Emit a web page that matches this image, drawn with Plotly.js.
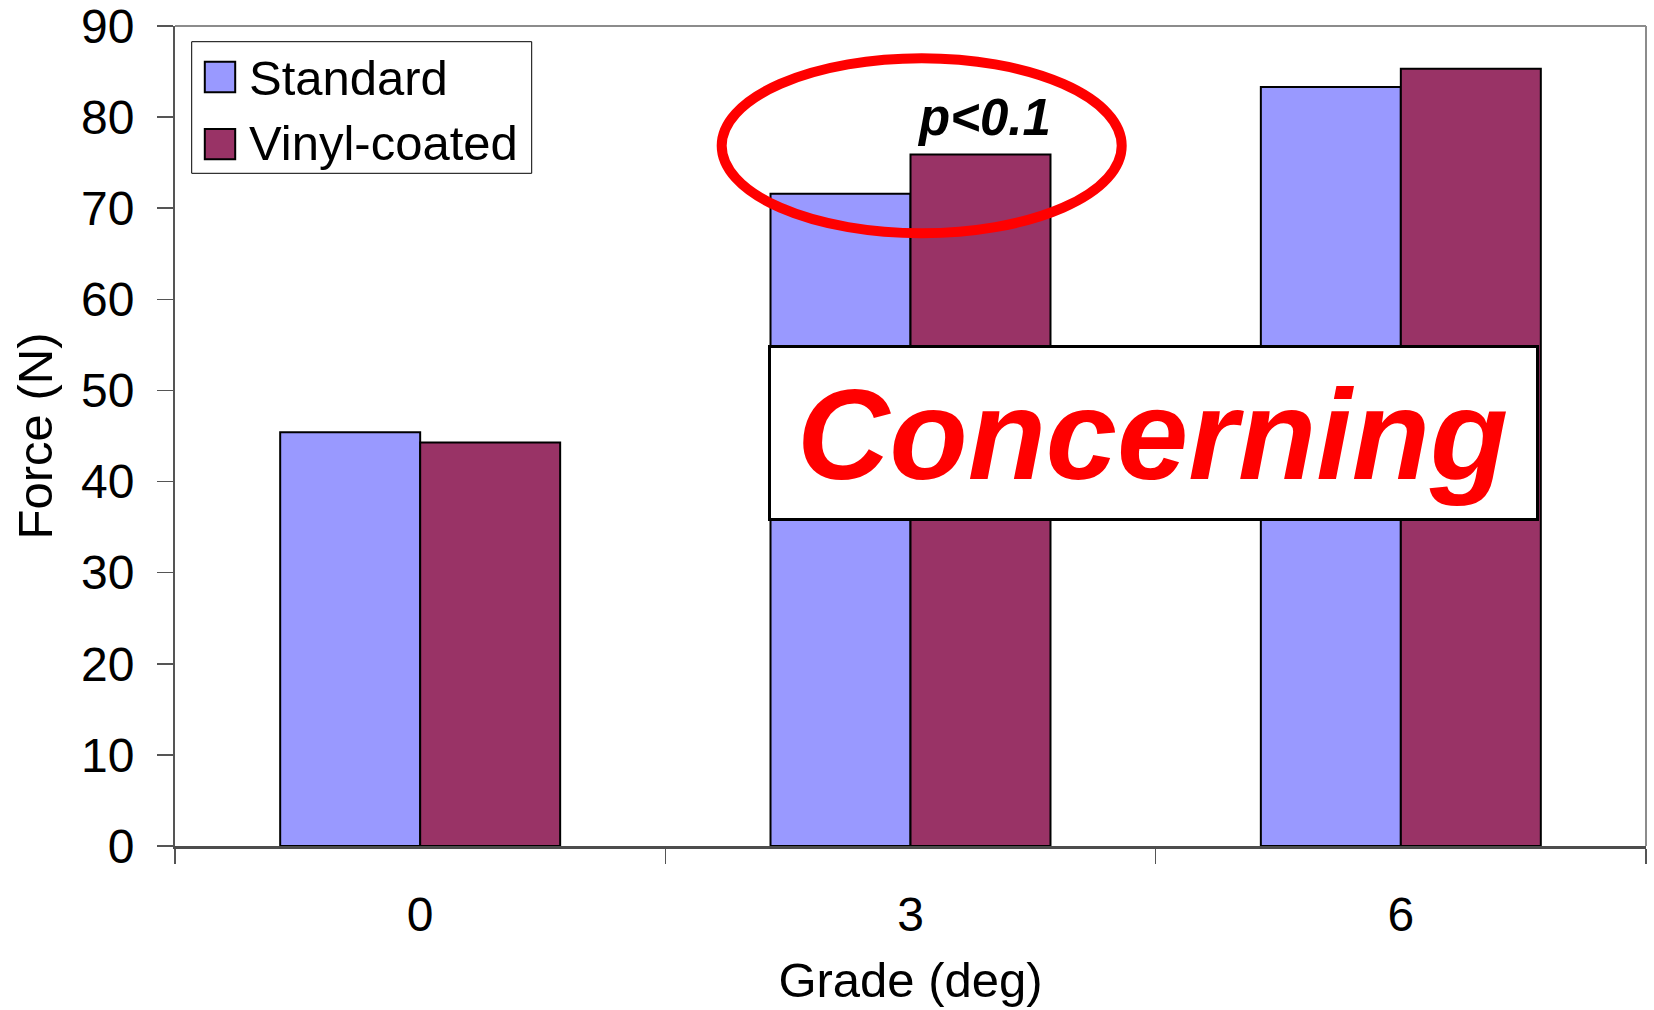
<!DOCTYPE html>
<html>
<head>
<meta charset="utf-8">
<script src="https://cdn.plot.ly/plotly-3.0.1.min.js"></script>
<style>
  html, body { margin: 0; padding: 0; background: #ffffff; }
  #chart { width: 1654px; height: 1010px; }
</style>
</head>
<body>
<div id="chart"></div>
<script>
// Pulling force by road grade for two tyre/track surface types
const grades = ['0', '3', '6'];
const standardForce = [45.4, 71.6, 83.3];
const vinylForce = [44.3, 75.9, 85.3];
const seriesNames = ['Standard', 'Vinyl-coated'];
const seriesColors = ['#9999FF', '#993366'];
const yTicks = [0, 10, 20, 30, 40, 50, 60, 70, 80, 90];
const xTitle = 'Grade (deg)';
const yTitle = 'Force (N)';
const noteText = 'p<0.1';
const bannerText = 'Concerning';

const FONT = 'Liberation Sans, Arial, Helvetica, sans-serif';
const W = 1654, H = 1010;
const M = { l: 175, r: 8, t: 26, b: 164 };
const plotW = W - M.l - M.r, plotH = H - M.t - M.b;
// pixel position inside the figure -> paper coordinates
const px = x => (x - M.l) / plotW;
const py = y => (H - M.b - y) / plotH;

const traces = [standardForce, vinylForce].map((vals, i) => ({
  type: 'bar',
  name: seriesNames[i],
  x: grades,
  y: vals,
  marker: { color: seriesColors[i], line: { color: '#000000', width: 2 } },
  hoverinfo: 'x+y+name'
}));

const shapes = [
  // plot frame (top and right edges)
  { type: 'line', xref: 'paper', yref: 'paper', x0: 0, x1: 1, y0: 1, y1: 1,
    line: { color: '#8c8c8c', width: 2 } },
  { type: 'line', xref: 'paper', yref: 'paper', x0: 1, x1: 1, y0: 0, y1: 1,
    line: { color: '#8c8c8c', width: 2 } },
  // highlight ring round the 3-degree pair
  { type: 'circle', xref: 'paper', yref: 'paper', layer: 'above',
    x0: px(721.7), x1: px(1121.7), y0: py(233.3), y1: py(58.3),
    line: { color: '#FF0000', width: 10 } },
  // banner box
  { type: 'rect', xref: 'paper', yref: 'paper', layer: 'above',
    x0: px(769.5), x1: px(1537.5), y0: py(519.5), y1: py(346.5),
    fillcolor: '#ffffff', line: { color: '#000000', width: 3 } },
  // legend frame
  { type: 'rect', xref: 'paper', yref: 'paper', layer: 'above',
    x0: px(191.7), x1: px(531.7), y0: py(173.3), y1: py(41.7),
    fillcolor: '#ffffff', line: { color: '#000000', width: 1 } }
];

// legend swatches and labels
const legendRows = [{ top: 61.7, bottom: 92.3, mid: 78.3 }, { top: 129, bottom: 159.3, mid: 142.7 }];
const annotations = [];
seriesNames.forEach((name, i) => {
  const r = legendRows[i];
  shapes.push({ type: 'rect', xref: 'paper', yref: 'paper', layer: 'above',
    x0: px(204.8), x1: px(235.2), y0: py(r.bottom), y1: py(r.top),
    fillcolor: seriesColors[i], line: { color: '#000000', width: 2 } });
  annotations.push({ xref: 'paper', yref: 'paper', x: px(247), y: py(r.mid),
    xanchor: 'left', yanchor: 'middle', showarrow: false, text: name,
    font: { family: FONT, size: 49, color: '#000000' } });
});

annotations.push({
  xref: 'paper', yref: 'paper', x: px(984), y: py(118),
  xanchor: 'center', yanchor: 'middle', showarrow: false,
  text: noteText.replace('<', '&lt;'),
  font: { family: FONT, size: 51, color: '#000000', weight: 'bold', style: 'italic' }
});
annotations.push({
  xref: 'paper', yref: 'paper', x: px(1152), y: py(434),
  xanchor: 'center', yanchor: 'middle', showarrow: false,
  text: bannerText,
  font: { family: FONT, size: 128, color: '#FF0000', weight: 'bold', style: 'italic' }
});

const layout = {
  width: W, height: H,
  margin: M,
  paper_bgcolor: '#ffffff',
  plot_bgcolor: '#ffffff',
  barmode: 'group',
  bargap: 0.429,
  bargroupgap: 0,
  showlegend: false,
  font: { family: FONT, color: '#000000' },
  xaxis: {
    type: 'category',
    range: [-0.5, 2.5],
    tickson: 'boundaries',
    ticks: 'outside', ticklen: 15, tickwidth: 1.5, tickcolor: '#555555',
    showline: true, linecolor: '#4d4d4d', linewidth: 3,
    showgrid: false, zeroline: false,
    ticklabelstandoff: 24,
    tickfont: { family: FONT, size: 48, color: '#000000' },
    title: { text: xTitle, font: { family: FONT, size: 49, color: '#000000' }, standoff: 24 }
  },
  yaxis: {
    range: [0, 90],
    tickvals: yTicks,
    ticks: 'outside', ticklen: 16, tickwidth: 1.5, tickcolor: '#555555',
    showline: true, linecolor: '#555555', linewidth: 2,
    showgrid: false, zeroline: false,
    ticklabelstandoff: 13,
    ticklabeloverflow: 'allow',
    tickfont: { family: FONT, size: 48, color: '#000000' },
    title: { text: yTitle, font: { family: FONT, size: 49, color: '#000000' }, standoff: 13 }
  },
  shapes: shapes,
  annotations: annotations
};

Plotly.newPlot('chart', traces, layout, { displayModeBar: false, staticPlot: true });
</script>
</body>
</html>
